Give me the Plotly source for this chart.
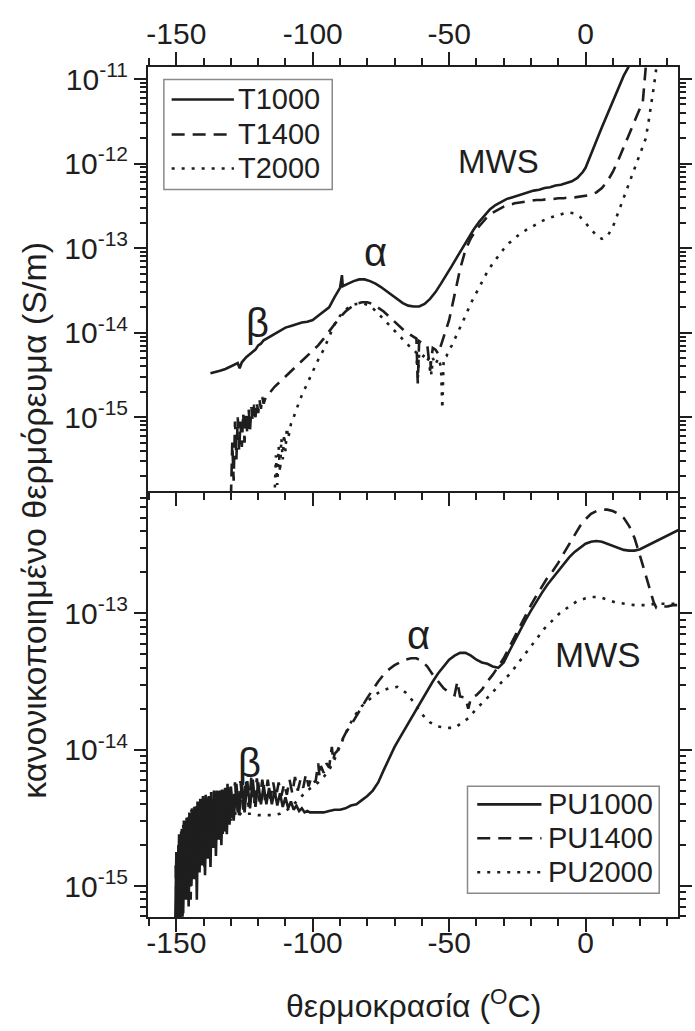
import numpy as np
import plotly.graph_objects as go

# ---------------- DATA (temperature in degC, log10 of normalised TSDC in S/m) ----------------
T1000_T = [-137.5, -136, -134, -132, -130, -128, -127.5, -126.8, -126, -124.4, -122, -121, -120, -119, -118,
           -116, -114, -112, -110, -108, -106, -104, -102, -100, -98, -96, -94, -92, -90, -89.3, -89,
           -87, -85, -83, -81, -79, -77, -75, -73, -71, -69, -67, -65, -63, -61, -59, -57, -55, -53,
           -51, -49, -47, -45, -43, -41, -39, -37, -35, -33, -31, -29, -27, -25, -23, -21, -19, -17,
           -15, -13, -11, -9, -7, -5, -3, -1, 0, 2, 4, 6, 8, 10, 12, 14, 15.7, 17]
T1000_log = [-14.48, -14.47, -14.45, -14.43, -14.40, -14.37, -14.36, -14.42, -14.35, -14.29, -14.22, -14.20,
             -14.15, -14.13, -14.09, -14.05, -14.02, -13.98, -13.94, -13.92, -13.90, -13.88, -13.87, -13.85,
             -13.80, -13.75, -13.70, -13.58, -13.47, -13.32, -13.45, -13.42, -13.39, -13.37, -13.37, -13.39,
             -13.42, -13.46, -13.51, -13.56, -13.61, -13.65, -13.68, -13.69, -13.69, -13.66, -13.60, -13.52,
             -13.42, -13.32, -13.21, -13.10, -12.99, -12.88, -12.78, -12.69, -12.61, -12.54, -12.49, -12.45,
             -12.42, -12.40, -12.38, -12.36, -12.34, -12.32, -12.31, -12.29, -12.28, -12.26, -12.25, -12.23,
             -12.21, -12.17, -12.10, -12.05, -11.90, -11.73, -11.57, -11.42, -11.27, -11.11, -10.96, -10.86,
             -10.75]

T1400_T = [-130, -129.5, -129, -128.5, -128, -127.5, -127, -126.5, -126, -125.5, -125, -124.5, -124, -123.5,
           -123, -122.5, -122, -121.5, -121, -120.5, -120, -119.5, -119, -118.5, -118, -117, -116, -115,
           -114, -112, -110, -108, -106, -104, -102, -100, -98, -96, -94, -92, -90, -88, -86, -84, -82,
           -80, -78, -76, -74, -72, -70, -68, -66, -64, -62, -61.5, -61, -60, -58, -57, -56, -55, -54,
           -53, -52, -51, -50, -48, -46, -44, -42, -40, -38, -36, -34, -32, -30, -28, -26, -24, -22, -20,
           -18, -16, -14, -12, -10, -8, -6, -4, -2, 0, 2, 4, 6, 8, 10, 12, 14, 16.5, 19, 21, 22, 22.5]
T1400_log = [-15.95, -15.30, -15.75, -15.05, -15.50, -15.00, -15.40, -15.05, -15.35, -14.95, -15.30, -14.95,
             -15.20, -14.90, -15.15, -14.88, -15.05, -14.85, -15.00, -14.82, -14.95, -14.80, -14.90, -14.76,
             -14.84, -14.74, -14.72, -14.68, -14.64, -14.58, -14.52, -14.46, -14.40, -14.34, -14.28, -14.22,
             -14.15, -14.07, -13.98, -13.90, -13.82, -13.75, -13.70, -13.66, -13.64, -13.64, -13.66, -13.70,
             -13.75, -13.81, -13.87, -13.93, -13.99, -14.03, -14.07, -14.60, -14.10, -14.12, -14.15, -14.45,
             -14.18, -14.20, -14.25, -14.15, -14.05, -13.95, -13.85, -13.55, -13.25, -13.02, -12.88, -12.78,
             -12.70, -12.63, -12.58, -12.54, -12.51, -12.49, -12.47, -12.46, -12.45, -12.44, -12.43, -12.43,
             -12.42, -12.42, -12.41, -12.41, -12.40, -12.40, -12.39, -12.38, -12.37, -12.34, -12.29, -12.21,
             -12.10, -11.96, -11.80, -11.60, -11.42, -11.27, -10.95, -10.70]

T2000_T = [-114, -113.5, -113, -112.5, -112, -111.5, -111, -110.5, -110, -109.5, -109, -108, -107, -106, -105,
           -104, -102, -100, -98, -96, -94, -92, -90, -88, -86, -84, -82, -80, -78, -76, -74, -72, -70, -68,
           -66, -64, -63, -62, -61.5, -61, -60, -59, -58, -57, -56.5, -56, -55, -54, -53, -52.5, -52, -51,
           -50, -49, -48, -46, -44, -42, -40, -38, -36, -34, -32, -30, -28, -26, -24, -22, -20, -18, -16,
           -14, -12, -10, -8, -6, -4, -2, 0, 2, 4, 6, 8, 10, 12, 14, 16, 18, 20, 22, 23, 24, 25, 26, 27]
T2000_log = [-15.95, -15.45, -15.80, -15.35, -15.65, -15.25, -15.50, -15.20, -15.40, -15.12, -15.25, -15.08,
             -15.00, -14.90, -14.82, -14.74, -14.60, -14.45, -14.32, -14.20, -14.05, -13.90, -13.80, -13.73,
             -13.68, -13.66, -13.65, -13.67, -13.71, -13.77, -13.84, -13.91, -13.98, -14.05, -14.12, -14.18,
             -14.20, -14.24, -14.55, -14.25, -14.30, -14.26, -14.33, -14.28, -14.50, -14.30, -14.38, -14.30,
             -14.40, -14.90, -14.30, -14.28, -14.20, -14.15, -14.08, -13.95, -13.80, -13.65, -13.52, -13.40,
             -13.28, -13.18, -13.09, -13.01, -12.94, -12.88, -12.83, -12.79, -12.75, -12.71, -12.68, -12.65,
             -12.63, -12.61, -12.59, -12.58, -12.59, -12.63, -12.70, -12.78, -12.85, -12.89, -12.86, -12.75,
             -12.58, -12.40, -12.22, -12.05, -11.88, -11.71, -11.53, -11.33, -11.10, -10.86, -10.60]

PU1000_T = [-150.5, -150, -149.5, -149, -148.5, -148, -147.5, -147, -146.5, -146, -145.5, -145, -144.5, -144,
            -143.5, -143, -142.5, -142, -141.5, -141, -140.5, -140, -139.5, -139, -138.5, -138, -137.5, -137,
            -136.5, -136, -135.5, -135, -134.5, -134, -133.5, -133, -132.5, -132, -131.5, -131, -130.5, -130,
            -129, -128, -127, -126, -125, -124, -123, -122, -121, -120, -119, -118, -117, -116, -115, -114,
            -113, -112, -111, -110, -109, -108, -107, -106, -105, -104, -103, -102, -101, -100,
            -98, -96, -94, -92, -90, -88, -86, -84, -82, -80, -78, -76, -74, -72, -70, -68, -66, -64,
            -62, -60, -58, -56, -54, -52, -50, -48, -46, -44, -42, -40, -38, -36, -34, -32, -30, -28,
            -26, -24, -22, -20, -18, -16, -14, -12, -10, -8, -6, -4, -2, 0, 2, 4, 6, 8, 10, 12, 14,
            16, 18, 20, 22, 24, 26, 28, 30, 32, 34, 36]
PU1000_log = [-15.40, -14.75, -15.30, -14.62, -15.25, -14.58, -15.20, -14.55, -15.10, -14.50, -15.15, -14.48,
              -15.00, -14.45, -14.95, -14.42, -15.10, -14.40, -14.90, -14.38, -14.85, -14.36, -14.92, -14.37,
              -14.80, -14.34, -14.86, -14.36, -14.72, -14.32, -14.78, -14.33, -14.66, -14.30, -14.70, -14.31,
              -14.60, -14.28, -14.62, -14.29, -14.55, -14.27,
              -14.52, -14.25, -14.48, -14.24, -14.46, -14.23, -14.43, -14.22, -14.42, -14.24, -14.40, -14.26,
              -14.40, -14.28, -14.40, -14.30, -14.41, -14.32, -14.42, -14.35, -14.43, -14.38, -14.44, -14.41,
              -14.45, -14.43, -14.46, -14.45, -14.46, -14.46,
              -14.46, -14.46, -14.45, -14.44, -14.44, -14.43, -14.41, -14.40, -14.37, -14.34, -14.30, -14.24,
              -14.15, -14.06, -13.98, -13.91, -13.84, -13.77, -13.70, -13.63, -13.56, -13.50, -13.44, -13.39,
              -13.34, -13.31, -13.29, -13.29, -13.31, -13.34, -13.36, -13.37, -13.39, -13.40, -13.36, -13.28,
              -13.20, -13.12, -13.05, -12.98, -12.91, -12.85, -12.79, -12.74, -12.69, -12.64, -12.59, -12.55,
              -12.52, -12.49, -12.475, -12.47, -12.475, -12.49, -12.51, -12.52, -12.535, -12.54, -12.54, -12.53,
              -12.51, -12.49, -12.47, -12.45, -12.43, -12.41, -12.39, -12.37]

PU1400_T = [-150.25, -149.75, -149.25, -148.75, -148.25, -147.75, -147.25, -146.75, -146.25, -145.75, -145.25,
            -144.75, -144.25, -143.75, -143.25, -142.75, -142.25, -141.75, -141.25, -140.75, -140.25, -139.75,
            -139.25, -138.75, -138.25, -137.75, -137.25, -136.75, -136.25, -135.75, -135.25, -134.75, -134.25,
            -133.75, -133.25, -132.75, -132.25, -131.75, -131.25, -130.75, -130.25, -129.5, -128.5, -127.5,
            -126.5, -125.5, -124.5, -123.5, -122.5, -121.5, -120.5, -119.5, -118.5, -117.5, -116.5, -115.5,
            -114.5, -113.5, -112.5, -111.5, -110.5, -109.5, -108.5, -107.5, -106.5, -105.5, -104.5, -103.5,
            -102.5, -101.5, -100.5,
            -99, -98, -97.5, -97, -96, -95, -94, -93, -92.5, -92, -91, -90, -89, -88, -86, -84, -82,
            -80, -78, -76, -74, -72, -70, -68, -66, -64, -62, -60, -58, -56, -54, -52, -50, -48, -47,
            -46, -44, -43, -42, -40, -38, -36, -34, -32, -30, -28, -26, -24, -22, -20, -18, -16, -14,
            -12, -10, -8, -6, -4, -2, 0, 2, 4, 6, 8, 10, 12, 14, 16, 18, 20, 22, 24, 25, 26, 28, 30,
            32, 34, 36]
PU1400_log = [-14.85, -15.35, -14.70, -15.20, -14.60, -15.25, -14.52, -15.05, -14.50, -14.98, -14.46, -15.10,
              -14.43, -14.90, -14.40, -14.95, -14.38, -14.85, -14.36, -14.80, -14.34, -14.88, -14.33, -14.75,
              -14.32, -14.80, -14.31, -14.68, -14.30, -14.72, -14.30, -14.62, -14.28, -14.66, -14.27, -14.58,
              -14.26, -14.60, -14.25, -14.52, -14.25, -14.50, -14.24, -14.46, -14.23, -14.44, -14.22, -14.42,
              -14.20, -14.40, -14.21, -14.38, -14.22, -14.37, -14.22, -14.36, -14.24, -14.35, -14.24, -14.34,
              -14.25, -14.33, -14.22, -14.32, -14.20, -14.30, -14.22, -14.28, -14.18, -14.27, -14.20,
              -14.24, -14.10, -14.20, -14.12, -14.17, -14.10, -14.13, -13.98, -14.08, -14.03, -14.01, -13.96,
              -13.92, -13.88, -13.82, -13.75, -13.68, -13.62, -13.56, -13.50, -13.45, -13.41, -13.38, -13.36,
              -13.34, -13.33, -13.33, -13.35, -13.39, -13.45, -13.50, -13.55, -13.58, -13.60, -13.50, -13.61,
              -13.62, -13.70, -13.62, -13.60, -13.56, -13.50, -13.45, -13.39, -13.33, -13.25, -13.17, -13.09,
              -13.02, -12.94, -12.87, -12.80, -12.74, -12.69, -12.63, -12.56, -12.49, -12.42, -12.36, -12.31,
              -12.27, -12.25, -12.24, -12.24, -12.25, -12.27, -12.30, -12.36, -12.45, -12.58, -12.72, -12.87,
              -12.92, -12.96, -12.95, -12.95, -12.94, -12.94, -12.94]

PU2000_T = [-150, -149.5, -149, -148.5, -148, -147.5, -147, -146.5, -146, -145.5, -145, -144.5, -144, -143.5,
            -143, -142.5, -142, -141.5, -141, -140.5, -140, -139.5, -139, -138.5, -138, -137.5, -137, -136.5,
            -136, -135.5, -135, -134.5, -134, -133.5, -133, -132.5, -132, -131.5, -131, -130.5, -130, -129,
            -128, -126, -124, -122, -120, -118, -116, -114, -112, -110, -108, -106, -104,
            -102, -100, -98, -96, -94, -92, -90, -88, -85, -82, -78, -75, -72, -69, -66, -63, -60, -57, -54,
            -51, -48, -45, -43, -40, -37, -34.5, -31, -28, -26, -23, -20, -17.7, -15, -12, -9.5, -6, -3, 0,
            2.4, 5, 8, 11, 14.4, 18, 22, 26, 31, 36]
PU2000_log = [-15.30, -14.80, -15.25, -14.62, -15.15, -14.55, -15.10, -14.50, -15.00, -14.47, -14.95, -14.44,
              -14.90, -14.42, -14.88, -14.40, -14.85, -14.38, -14.80, -14.37, -14.75, -14.36, -14.78, -14.36,
              -14.70, -14.35, -14.72, -14.35, -14.65, -14.36, -14.66, -14.37, -14.60, -14.38, -14.62, -14.39,
              -14.56, -14.40, -14.55, -14.41, -14.52, -14.42,
              -14.50, -14.46, -14.47, -14.47, -14.48, -14.48, -14.48, -14.48, -14.47, -14.45, -14.42, -14.38,
              -14.34, -14.30, -14.27, -14.24, -14.20, -14.15, -14.07, -13.98, -13.88, -13.76, -13.68, -13.61,
              -13.57, -13.55, -13.54, -13.58, -13.65, -13.74, -13.80, -13.83, -13.84, -13.84, -13.80, -13.77,
              -13.70, -13.64, -13.59, -13.51, -13.45, -13.40, -13.32, -13.24, -13.18, -13.11, -13.05, -13.00,
              -12.95, -12.91, -12.89, -12.88, -12.88, -12.90, -12.92, -12.93, -12.94, -12.94, -12.93, -12.93,
              -12.93]

X_TICKS = [-150, -100, -50, 0]
X_TICKTEXT = ["-150", "-100", "-50", "0"]
X_MINOR = [-160, -140, -130, -120, -110, -90, -80, -70, -60, -40, -30, -20, -10, 10, 20, 30]
Y_TOP_EXP = [-15, -14, -13, -12, -11]
Y_BOT_EXP = [-15, -14, -13]
LEGEND_TOP = ["T1000", "T1400", "T2000"]
LEGEND_BOT = ["PU1000", "PU1400", "PU2000"]

# ---------------- LAYOUT GEOMETRY (pixels) ----------------
W, H = 695, 1031
PL, PR, PT, PB = 147.7, 692.3, 66.5, 916.7
PMID = 491.0
INK = "#1e1e1e"
FONT = "Liberation Sans, Arial, sans-serif"
SOLID, DASH, DOT = "solid", "13px,8px", "3px,7px"
XRANGE = [-160.4, 33.9]


def px_x(px):
    return (px - PL) / (PR - PL)


def px_y(py):
    return (PB - py) / (PB - PT)


split = px_y(PMID)

fig = go.Figure()


def add(x, logv, dash, xa, ya):
    fig.add_trace(go.Scatter(x=x, y=np.power(10.0, np.array(logv)), mode="lines",
                             line=dict(color=INK, width=2.6, dash=dash),
                             xaxis=xa, yaxis=ya, showlegend=False, hoverinfo="skip"))


add(T1000_T, T1000_log, SOLID, "x", "y")
add(T1400_T, T1400_log, DASH, "x", "y")
add(T2000_T, T2000_log, DOT, "x", "y")
add(PU1000_T, PU1000_log, SOLID, "x2", "y2")
add(PU1400_T, PU1400_log, DASH, "x2", "y2")
add(PU2000_T, PU2000_log, DOT, "x2", "y2")


def minor_vals(lo, hi):
    vals = []
    for e in range(lo, hi + 1):
        for m in range(2, 10):
            vals.append(m * 10.0 ** e)
    return vals


tickfont = dict(family=FONT, size=30, color=INK)
minor_x = dict(tickvals=X_MINOR, ticks="outside", ticklen=7, tickwidth=1.6, tickcolor=INK, showgrid=False)
xcommon = dict(range=XRANGE, tickvals=X_TICKS, ticktext=X_TICKTEXT, ticks="outside",
               ticklen=13, tickwidth=1.8, tickcolor=INK, showline=True, linecolor=INK, linewidth=2,
               showgrid=False, zeroline=False, tickfont=tickfont, minor=minor_x, mirror=False)
ycommon = dict(type="log", ticks="outside", ticklen=12, tickwidth=1.8, tickcolor=INK, showline=True,
               linecolor=INK, linewidth=2, showgrid=False, zeroline=False, tickfont=tickfont,
               mirror="ticks")

fig.update_layout(
    width=W, height=H, plot_bgcolor="white", paper_bgcolor="white",
    margin=dict(l=PL, r=W - PR, t=PT, b=H - PB, pad=0),
    xaxis=dict(xcommon, side="top", anchor="y", ticklabelstandoff=-4),
    xaxis3=dict(xcommon, side="bottom", anchor="y", overlaying="x", matches="x", showticklabels=False),
    xaxis2=dict(xcommon, side="bottom", anchor="y2", ticklabelstandoff=-15),
    yaxis=dict(ycommon, domain=[split, 1], anchor="x", range=[-15.877, -10.858],
               tickvals=[10.0 ** e for e in Y_TOP_EXP],
               ticktext=["10<sup>%d</sup>" % e for e in Y_TOP_EXP],
               minor=dict(tickvals=minor_vals(-16, -11), ticks="outside", ticklen=6, tickwidth=1.5,
                          tickcolor=INK, showgrid=False)),
    yaxis2=dict(ycommon, domain=[0, split], anchor="x2", range=[-15.227, -12.106],
                tickvals=[10.0 ** e for e in Y_BOT_EXP],
                ticktext=["10<sup>%d</sup>" % e for e in Y_BOT_EXP],
                minor=dict(tickvals=minor_vals(-16, -12), ticks="outside", ticklen=6, tickwidth=1.5,
                           tickcolor=INK, showgrid=False)),
    showlegend=False,
)
# an (invisible) trace so the overlay axis along the panel boundary is drawn
fig.add_trace(go.Scatter(x=[XRANGE[0]], y=[1e-13], mode="lines", xaxis="x3", yaxis="y",
                         line=dict(width=0), showlegend=False, hoverinfo="skip"))

ann = []


def label(text, x, y, size, xref, yref):
    ann.append(dict(text=text, x=x, y=y, xref=xref, yref=yref, showarrow=False,
                    font=dict(family=FONT, size=size, color=INK), xanchor="center", yanchor="middle"))


# peak labels (data coordinates; y given as log10)
label("β", -120.3, -13.88, 40, "x", "y")
label("α", -77, -13.05, 40, "x", "y")
label("MWS", -32, -11.97, 33, "x", "y")
label("β", -123.1, -14.10, 40, "x2", "y2")
label("α", -61.3, -13.16, 40, "x2", "y2")
label("MWS", 4.4, -13.305, 35, "x2", "y2")

# axis titles
ann.append(dict(text="θερμοκρασία (<sup>O</sup>C)", x=0.5, y=px_y(1004), xref="paper", yref="paper",
                showarrow=False, font=dict(family=FONT, size=32, color=INK), xanchor="center",
                yanchor="middle"))
ann.append(dict(text="κανονικοποιημένο θερμόρευμα (S/m)", x=px_x(31), y=px_y(520), xref="paper",
                yref="paper", showarrow=False, textangle=-90,
                font=dict(family=FONT, size=34, color=INK), xanchor="center", yanchor="middle"))

# manual legends
shapes = []


def legend(box, rows, names, x_line0, x_line1, x_text):
    x0, y0, x1, y1 = box
    shapes.append(dict(type="rect", xref="paper", yref="paper", x0=px_x(x0), x1=px_x(x1),
                       y0=px_y(y0), y1=px_y(y1), line=dict(color="#8a8a8a", width=1.5),
                       fillcolor="white", layer="above"))
    for name, yy, dash in zip(names, rows, [SOLID, DASH, DOT]):
        shapes.append(dict(type="line", xref="paper", yref="paper", x0=px_x(x_line0), x1=px_x(x_line1),
                           y0=px_y(yy), y1=px_y(yy), line=dict(color=INK, width=2.6, dash=dash)))
        ann.append(dict(text=name, x=px_x(x_text), y=px_y(yy), xref="paper", yref="paper",
                        showarrow=False, font=dict(family=FONT, size=29, color=INK),
                        xanchor="left", yanchor="middle"))


legend((164, 79, 337, 189), [99, 134, 168], LEGEND_TOP, 172, 236, 238)
legend((476, 786, 673, 893), [804, 838, 872], LEGEND_BOT, 486, 552, 557)

fig.update_layout(annotations=ann, shapes=shapes)
fig.write_html("out.html")
